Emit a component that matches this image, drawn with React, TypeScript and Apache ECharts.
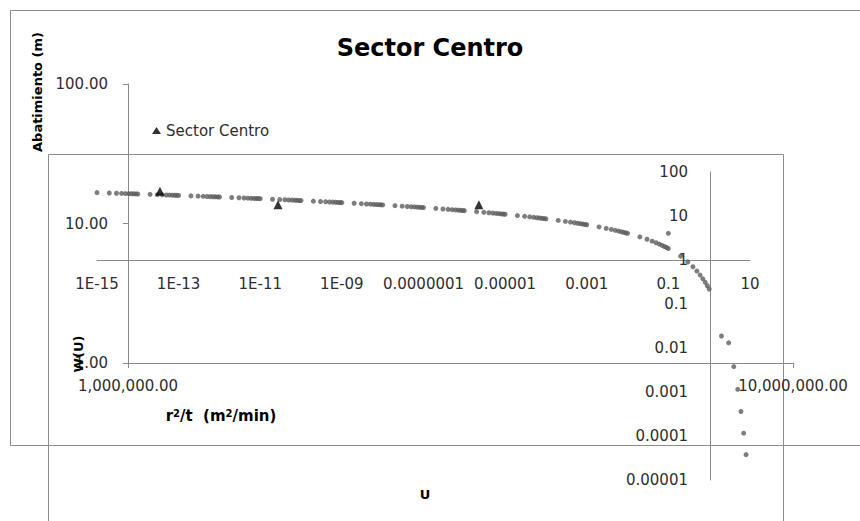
import React, { useEffect, useRef } from 'react';
import * as echarts from 'echarts';

// Theis type curve W(u) vs u
const THEIS_U = [
  1e-15, 2e-15, 3e-15, 4e-15, 5e-15, 6e-15, 7e-15, 8e-15, 9e-15,
  1e-14, 2e-14, 3e-14, 4e-14, 5e-14, 6e-14, 7e-14, 8e-14, 9e-14,
  1e-13, 2e-13, 3e-13, 4e-13, 5e-13, 6e-13, 7e-13, 8e-13, 9e-13,
  1e-12, 2e-12, 3e-12, 4e-12, 5e-12, 6e-12, 7e-12, 8e-12, 9e-12,
  1e-11, 2e-11, 3e-11, 4e-11, 5e-11, 6e-11, 7e-11, 8e-11, 9e-11,
  1e-10, 2e-10, 3e-10, 4e-10, 5e-10, 6e-10, 7e-10, 8e-10, 9e-10,
  1e-9, 2e-9, 3e-9, 4e-9, 5e-9, 6e-9, 7e-9, 8e-9, 9e-9,
  1e-8, 2e-8, 3e-8, 4e-8, 5e-8, 6e-8, 7e-8, 8e-8, 9e-8,
  1e-7, 2e-7, 3e-7, 4e-7, 5e-7, 6e-7, 7e-7, 8e-7, 9e-7,
  1e-6, 2e-6, 3e-6, 4e-6, 5e-6, 6e-6, 7e-6, 8e-6, 9e-6,
  1e-5, 2e-5, 3e-5, 4e-5, 5e-5, 6e-5, 7e-5, 8e-5, 9e-5,
  1e-4, 2e-4, 3e-4, 4e-4, 5e-4, 6e-4, 7e-4, 8e-4, 9e-4,
  1e-3, 2e-3, 3e-3, 4e-3, 5e-3, 6e-3, 7e-3, 8e-3, 9e-3,
  0.01, 0.02, 0.03, 0.04, 0.05, 0.06, 0.07, 0.08, 0.09,
  0.1, 0.2, 0.3, 0.4, 0.5, 0.6, 0.7, 0.8, 0.9,
  1, 2, 3, 4, 5, 6, 7, 8,
  0.1,
];
const THEIS_W = [
  33.96, 33.27, 32.86, 32.58, 32.35, 32.17, 32.02, 31.88, 31.76,
  31.66, 30.97, 30.56, 30.27, 30.05, 29.87, 29.71, 29.58, 29.46,
  29.36, 28.66, 28.26, 27.97, 27.75, 27.56, 27.41, 27.28, 27.16,
  27.05, 26.36, 25.96, 25.67, 25.44, 25.26, 25.11, 24.97, 24.86,
  24.75, 24.06, 23.65, 23.36, 23.14, 22.96, 22.81, 22.67, 22.55,
  22.45, 21.76, 21.35, 21.06, 20.84, 20.66, 20.5, 20.37, 20.25,
  20.15, 19.45, 19.05, 18.76, 18.54, 18.35, 18.2, 18.07, 17.95,
  17.84, 17.15, 16.74, 16.46, 16.23, 16.05, 15.9, 15.76, 15.65,
  15.54, 14.85, 14.44, 14.15, 13.93, 13.75, 13.6, 13.46, 13.34,
  13.24, 12.55, 12.14, 11.85, 11.63, 11.45, 11.29, 11.16, 11.04,
  10.94, 10.24, 9.84, 9.55, 9.33, 9.14, 8.99, 8.86, 8.74,
  8.63, 7.94, 7.53, 7.25, 7.02, 6.84, 6.69, 6.55, 6.44,
  6.33, 5.64, 5.23, 4.95, 4.73, 4.54, 4.39, 4.26, 4.14,
  4.04, 3.35, 2.96, 2.68, 2.47, 2.3, 2.15, 2.03, 1.92,
  1.82, 1.22, 0.906, 0.702, 0.56, 0.454, 0.374, 0.311, 0.26,
  0.219, 0.0187, 0.0131, 0.00378, 0.00115, 0.00036, 0.000116, 0.0000377,
  4.04,
];

// Observed drawdown vs r^2/t
const OBS_R2T = [1117000, 1681000, 3370000];
const OBS_S = [17.0, 13.6, 13.6];

// Tick labels
const A_X_LABELS = ['1,000,000.00', '10,000,000.00']; // 10^6, 10^7
const A_Y_LABELS = ['1.00', '10.00', '100.00']; // 10^0..10^2
const B_X_LABELS = ['1E-15', '1E-13', '1E-11', '1E-09', '0.0000001', '0.00001', '0.001', '0.1', '10'];
const B_Y_LABELS = ['0.00001', '0.0001', '0.001', '0.01', '0.1', '1', '10', '100'];

const FONT = 'DejaVu Sans';
const AXIS_COLOR = '#898989';
const LABEL_COLOR = '#2e2e2e';

const exp10 = (v: number) => Math.round(Math.log10(v));

export default function App() {
  const ref = useRef<HTMLDivElement>(null);
  useEffect(() => {
    if (!ref.current) return;
    const chart = echarts.init(ref.current, undefined, { renderer: 'svg' });
    const labelStyle = { fontFamily: FONT, fontSize: 15, color: LABEL_COLOR };
    chart.setOption({
      animation: false,
      backgroundColor: '#ffffff',
      title: {
        text: 'Sector Centro',
        left: 'center',
        top: 31,
        textStyle: { fontFamily: FONT, fontWeight: 'bold', fontSize: 24, color: '#000' },
      },
      legend: {
        data: [{ name: 'Sector Centro', icon: 'triangle' }],
        left: 147,
        top: 118,
        itemWidth: 9,
        itemHeight: 7,
        textStyle: { fontFamily: FONT, fontSize: 15, color: LABEL_COLOR },
      },
      grid: [
        { left: 128, top: 84, width: 665, height: 279 },
        { left: 97, top: 172, width: 653, height: 308 },
      ],
      xAxis: [
        {
          type: 'log', gridIndex: 0, min: 1e6, max: 1e7,
          axisLine: { onZero: false, lineStyle: { color: AXIS_COLOR } },
          axisTick: { show: true, length: 5, lineStyle: { color: AXIS_COLOR } },
          splitLine: { show: false },
          axisLabel: { ...labelStyle, margin: 15, formatter: (v: number) => A_X_LABELS[exp10(v) - 6] ?? '' },
        },
        {
          type: 'log', gridIndex: 1, min: 1e-15, max: 10, show: false,
          axisLine: { onZero: false }, splitLine: { show: false },
        },
        {
          type: 'value', gridIndex: 1, min: -15, max: 1, interval: 1, position: 'bottom', offset: -220,
          axisLine: { onZero: false, lineStyle: { color: AXIS_COLOR } },
          axisTick: { show: false },
          splitLine: { show: false },
          axisLabel: {
            ...labelStyle, margin: 16,
            formatter: (v: number) => {
              const k = Math.round(v) + 15;
              return k % 2 === 0 ? B_X_LABELS[k / 2] ?? '' : '';
            },
          },
        },
      ],
      yAxis: [
        {
          type: 'log', gridIndex: 0, min: 1, max: 100,
          axisLine: { show: true, onZero: false, lineStyle: { color: AXIS_COLOR } },
          axisTick: { show: true, length: 5, lineStyle: { color: AXIS_COLOR } },
          splitLine: { show: false },
          axisLabel: { ...labelStyle, margin: 20, formatter: (v: number) => A_Y_LABELS[exp10(v)] ?? '' },
        },
        {
          type: 'log', gridIndex: 1, min: 1e-5, max: 100, position: 'left', offset: -613,
          axisLine: { show: true, onZero: false, lineStyle: { color: AXIS_COLOR } },
          axisTick: { show: false },
          splitLine: { show: false },
          axisLabel: { ...labelStyle, margin: 22, formatter: (v: number) => B_Y_LABELS[exp10(v) + 5] ?? '' },
        },
      ],
      series: [
        {
          name: 'W(U)',
          type: 'scatter',
          xAxisIndex: 1,
          yAxisIndex: 1,
          symbol: 'circle',
          symbolSize: 5,
          itemStyle: { color: '#5c5c5c' },
          data: THEIS_U.map((u, i) => [u, THEIS_W[i]]),
          z: 2,
        },
        {
          name: 'Sector Centro',
          type: 'scatter',
          xAxisIndex: 0,
          yAxisIndex: 0,
          symbol: 'triangle',
          symbolSize: 9,
          itemStyle: { color: '#000000' },
          data: OBS_R2T.map((x, i) => [x, OBS_S[i]]),
          z: 3,
        },
      ],
      graphic: [
        {
          type: 'rect', z: 0, silent: true,
          shape: { x: 10.5, y: 10.5, width: 900, height: 435 },
          style: { fill: 'none', stroke: '#8c8c8c', lineWidth: 1 },
        },
        {
          type: 'rect', z: 0, silent: true,
          shape: { x: 48.5, y: 154.5, width: 735, height: 500 },
          style: { fill: 'none', stroke: '#8c8c8c', lineWidth: 1 },
        },
        {
          type: 'text', z: 10, x: 37, y: 92, rotation: Math.PI / 2,
          style: {
            text: 'Abatimiento (m)', fontFamily: FONT, fontWeight: 'bold', fontSize: 13,
            fill: '#000', align: 'center', verticalAlign: 'middle',
          },
        },
        {
          type: 'text', z: 10, x: 78, y: 354, rotation: Math.PI / 2,
          style: {
            text: 'W(U)', fontFamily: FONT, fontWeight: 'bold', fontSize: 13,
            fill: '#000', align: 'center', verticalAlign: 'middle',
          },
        },
        {
          type: 'text', z: 10, x: 425, y: 494,
          style: {
            text: 'U', fontFamily: FONT, fontWeight: 'bold', fontSize: 13,
            fill: '#000', align: 'center', verticalAlign: 'middle',
          },
        },
        {
          type: 'text', z: 10, x: 221, y: 416,
          style: {
            text: '{a|r}{s|2}{a|/t  (m}{s|2}{a|/min)}',
            align: 'center', verticalAlign: 'middle',
            rich: {
              a: { fontFamily: FONT, fontWeight: 'bold', fontSize: 15, fill: '#000' },
              s: { fontFamily: FONT, fontWeight: 'bold', fontSize: 10, fill: '#000', verticalAlign: 'top', padding: [0, 0, 6, 0] },
            },
          },
        },
      ],
    });
    return () => chart.dispose();
  }, []);
  return <div ref={ref} style={{ position: 'absolute', left: 0, top: 0, width: 860, height: 521 }} />;
}
